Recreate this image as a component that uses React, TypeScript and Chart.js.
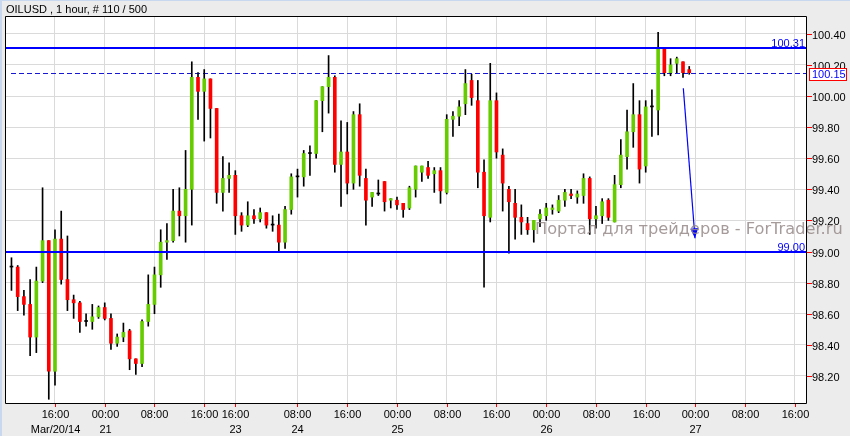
import React, { useEffect, useRef } from 'react';
import { Chart, registerables } from 'chart.js';

Chart.register(...registerables);

// ---- data (OILUSD, 1 hour, 110 bars) ----
const OPEN = [
  98.90, 98.90, 98.71, 98.66, 98.45, 98.81, 99.07, 98.23, 99.08, 98.82,
  98.69, 98.67, 98.55, 98.55, 98.58, 98.64, 98.57, 98.41, 98.45, 98.49,
  98.31, 98.28, 98.55, 98.66, 98.85, 99.06, 99.07, 99.26, 99.23, 99.40,
  100.12, 100.03, 100.11, 99.92, 99.38, 99.47, 99.49, 99.23, 99.17, 99.23,
  99.21, 99.25, 99.17, 99.17, 99.06, 99.27, 99.48, 99.48, 99.63, 99.63,
  99.97, 100.06, 100.12, 99.56, 99.64, 99.44, 99.88, 99.47, 99.35, 99.37,
  99.45, 99.33, 99.33, 99.31, 99.28, 99.40, 99.51, 99.54, 99.50, 99.52,
  99.38, 99.85, 99.87, 99.95, 100.10, 99.97, 99.51, 99.22, 99.97, 99.62,
  99.40, 99.31, 99.22, 99.18, 99.14, 99.21, 99.23, 99.27, 99.26, 99.33,
  99.37, 99.35, 99.36, 99.47, 99.21, 99.23, 99.33, 99.19, 99.43, 99.61,
  99.77, 99.88, 99.55, 99.93, 99.91, 100.30, 100.15, 100.21, 100.22, 100.17,
];
const HIGH = [
  98.96, 98.91, 98.75, 98.82, 98.90, 99.41, 99.07, 99.14, 99.26, 99.10,
  98.72, 98.68, 98.60, 98.66, 98.65, 98.67, 98.60, 98.47, 98.54, 98.50,
  98.31, 98.56, 98.85, 98.90, 99.14, 99.18, 99.40, 99.41, 99.65, 100.22,
  100.15, 100.17, 100.11, 99.92, 99.61, 99.57, 99.52, 99.25, 99.32, 99.27,
  99.28, 99.25, 99.23, 99.24, 99.29, 99.50, 99.53, 99.65, 99.68, 99.97,
  100.06, 100.26, 100.13, 99.84, 99.83, 99.90, 99.95, 99.53, 99.38, 99.46,
  99.45, 99.34, 99.35, 99.31, 99.42, 99.55, 99.55, 99.58, 99.54, 99.54,
  99.88, 99.90, 99.97, 100.17, 100.14, 100.10, 99.59, 100.21, 100.02, 99.66,
  99.42, 99.40, 99.30, 99.22, 99.20, 99.27, 99.31, 99.30, 99.36, 99.40,
  99.40, 99.39, 99.50, 99.48, 99.29, 99.34, 99.34, 99.49, 99.72, 99.91,
  100.08, 99.97, 99.97, 100.04, 100.41, 100.30, 100.24, 100.25, 100.22, 100.19,
];
const LOW = [
  98.75, 98.62, 98.59, 98.33, 98.35, 98.80, 98.05, 98.14, 98.79, 98.62,
  98.57, 98.48, 98.52, 98.50, 98.57, 98.56, 98.37, 98.39, 98.42, 98.24,
  98.21, 98.26, 98.52, 98.60, 98.77, 98.95, 99.06, 99.10, 99.06, 99.17,
  99.85, 99.71, 99.73, 99.31, 99.26, 99.38, 99.11, 99.13, 99.16, 99.18,
  99.19, 99.15, 99.13, 99.00, 99.02, 99.24, 99.35, 99.42, 99.49, 99.60,
  99.77, 99.89, 99.51, 99.29, 99.37, 99.40, 99.42, 99.17, 99.29, 99.36,
  99.26, 99.28, 99.27, 99.22, 99.27, 99.35, 99.45, 99.47, 99.38, 99.31,
  99.37, 99.74, 99.81, 99.88, 99.94, 99.41, 98.77, 99.19, 99.60, 99.26,
  98.99, 99.08, 99.11, 99.11, 99.06, 99.16, 99.20, 99.24, 99.25, 99.29,
  99.34, 99.31, 99.31, 99.11, 99.15, 99.18, 99.20, 99.19, 99.41, 99.53,
  99.67, 99.44, 99.51, 99.74, 99.75, 100.13, 100.13, 100.15, 100.12, 100.14,
];
const CLOSE = [
  98.90, 98.71, 98.66, 98.45, 98.81, 99.07, 98.23, 99.08, 98.82, 98.69,
  98.67, 98.55, 98.55, 98.58, 98.64, 98.57, 98.41, 98.45, 98.48, 98.31,
  98.28, 98.55, 98.66, 98.85, 99.06, 99.07, 99.26, 99.23, 99.40, 100.12,
  100.03, 100.11, 99.92, 99.38, 99.47, 99.49, 99.23, 99.17, 99.23, 99.21,
  99.25, 99.17, 99.17, 99.06, 99.27, 99.48, 99.48, 99.63, 99.63, 99.97,
  100.06, 100.12, 99.56, 99.64, 99.44, 99.88, 99.49, 99.33, 99.38, 99.37,
  99.32, 99.34, 99.30, 99.27, 99.41, 99.55, 99.55, 99.49, 99.52, 99.39,
  99.85, 99.87, 99.93, 100.08, 99.99, 99.51, 99.23, 99.97, 99.64, 99.44,
  99.32, 99.22, 99.19, 99.14, 99.20, 99.24, 99.28, 99.28, 99.33, 99.38,
  99.36, 99.37, 99.47, 99.21, 99.23, 99.32, 99.22, 99.43, 99.62, 99.77,
  99.88, 99.53, 99.93, 99.93, 100.31, 100.15, 100.20, 100.24, 100.15, 100.15,
];

// time axis (bar index -> label)
const TICK_INDEX = [7, 15, 23, 31, 36, 46, 54, 62, 70, 78, 86, 94, 102, 110, 118, 126];
const TICK_TIME = ['16:00', '00:00', '08:00', '16:00', '16:00', '08:00', '16:00', '00:00', '08:00', '16:00', '00:00', '08:00', '16:00', '00:00', '08:00', '16:00'];
const TICK_DATE = ['Mar/20/14', '21', '', '', '23', '24', '', '25', '', '', '26', '', '', '27', '', ''];

// price axis
const PRICE_TICKS = [98.2, 98.4, 98.6, 98.8, 99.0, 99.2, 99.4, 99.6, 99.8, 100.0, 100.2, 100.4];

// objects on chart
const LEVELS = [100.31, 99.0];
const BID = 100.15;
const ARROW_FROM = { x: 108.05, y: 100.05 };
const ARROW_TO = { x: 109.93, y: 99.085 };

const TITLE = 'OILUSD , 1 hour, # 110 / 500';
const WATERMARK = 'Портал для трейдеров - ForTrader.ru';

const GREEN = '#66CC00';
const RED = '#FF0000';
const GRID = '#DADADA';
const BLUE = '#0000FF';
const FONT = '11px "Liberation Sans", Arial, sans-serif';

const decor = {
  id: 'decor',
  beforeDraw(chart: any) {
    const { ctx, chartArea: a, width, height } = chart;
    ctx.save();
    ctx.fillStyle = '#ECECEC';
    ctx.fillRect(0, 0, width, height);
    ctx.fillStyle = '#FFFFFF';
    ctx.fillRect(a.left, a.top, a.right - a.left, a.bottom - a.top);
    ctx.fillStyle = '#C8D8EE';
    ctx.fillRect(0, 0, 2, height);
    ctx.fillRect(0, 0, width, 1);
    ctx.fillStyle = '#000';
    ctx.font = FONT;
    ctx.textAlign = 'left';
    ctx.textBaseline = 'alphabetic';
    ctx.fillText(TITLE, 6, 12.5);
    ctx.restore();
  },
  beforeDatasetsDraw(chart: any) {
    const { ctx, chartArea: a, scales } = chart;
    const y = Math.round(scales.y.getPixelForValue(BID)) + 0.5;
    ctx.save();
    ctx.strokeStyle = 'rgb(24,24,210)';
    ctx.lineWidth = 1;
    ctx.setLineDash([5, 3]);
    ctx.beginPath();
    ctx.moveTo(a.left + 5, y);
    ctx.lineTo(a.right, y);
    ctx.stroke();
    ctx.restore();
  },
  afterDatasetsDraw(chart: any) {
    const { ctx, chartArea: a, scales } = chart;
    const xs = scales.x;
    const ys = scales.y;
    ctx.save();
    ctx.font = FONT;

    // horizontal levels
    LEVELS.forEach((lv) => {
      const y = ys.getPixelForValue(lv);
      ctx.fillStyle = BLUE;
      ctx.fillRect(a.left, Math.round(y) - 1, a.right - a.left, 2);
      ctx.textAlign = 'right';
      ctx.textBaseline = 'alphabetic';
      ctx.fillText(lv.toFixed(2), a.right - 1, Math.round(y) - 1.5);
    });

    // arrow
    const x1 = xs.getPixelForValue(ARROW_FROM.x);
    const y1 = ys.getPixelForValue(ARROW_FROM.y);
    const x2 = xs.getPixelForValue(ARROW_TO.x);
    const y2 = ys.getPixelForValue(ARROW_TO.y);
    ctx.strokeStyle = BLUE;
    ctx.lineWidth = 1.2;
    ctx.beginPath();
    ctx.moveTo(x1, y1);
    ctx.lineTo(x2, y2);
    ctx.stroke();
    const ang = Math.atan2(y2 - y1, x2 - x1);
    const L = 10;
    const W = 4;
    const bx = x2 - L * Math.cos(ang);
    const by = y2 - L * Math.sin(ang);
    ctx.fillStyle = BLUE;
    ctx.beginPath();
    ctx.moveTo(x2, y2);
    ctx.lineTo(bx + W * Math.sin(ang), by - W * Math.cos(ang));
    ctx.lineTo(bx - W * Math.sin(ang), by + W * Math.cos(ang));
    ctx.closePath();
    ctx.fill();

    // watermark
    ctx.font = '16px "DejaVu Sans", sans-serif';
    const w16 = ctx.measureText(WATERMARK).width;
    const fs = (16 * 308) / w16;
    ctx.font = `${fs.toFixed(2)}px "DejaVu Sans", sans-serif`;
    ctx.fillStyle = 'rgba(150,138,138,0.85)';
    ctx.textAlign = 'left';
    ctx.textBaseline = 'alphabetic';
    ctx.fillText(WATERMARK, 535, 234);

    // frame
    ctx.strokeStyle = '#000';
    ctx.lineWidth = 1;
    ctx.beginPath();
    ctx.rect(a.left - 0.5, a.top - 0.5, a.right - a.left + 1, a.bottom - a.top + 1);
    ctx.stroke();

    // price axis labels
    ctx.font = FONT;
    ctx.textAlign = 'left';
    ctx.textBaseline = 'alphabetic';
    PRICE_TICKS.forEach((p) => {
      const y = Math.round(ys.getPixelForValue(p));
      ctx.fillStyle = RED;
      ctx.fillRect(a.right + 1, y, 5, 1);
      ctx.fillStyle = '#000';
      ctx.fillText(p.toFixed(2), a.right + 6, y + 5);
    });

    // bid box
    const by2 = Math.round(ys.getPixelForValue(BID));
    ctx.fillStyle = '#FFFFFF';
    ctx.fillRect(a.right + 3, by2 - 4, 37, 11);
    ctx.strokeStyle = RED;
    ctx.strokeRect(a.right + 3.5, by2 - 4.5, 37, 12);
    ctx.fillStyle = BLUE;
    ctx.fillText(BID.toFixed(2), a.right + 6, by2 + 5);

    // time axis labels
    ctx.textAlign = 'center';
    TICK_INDEX.forEach((t, i) => {
      const x = Math.round(xs.getPixelForValue(t));
      ctx.fillStyle = RED;
      ctx.fillRect(x, a.bottom + 1, 1, 3);
      ctx.fillStyle = '#000';
      ctx.fillText(TICK_TIME[i], x + 0.5, a.bottom + 15);
      if (TICK_DATE[i]) ctx.fillText(TICK_DATE[i], x + 0.5, a.bottom + 30);
    });
    ctx.restore();
  },
};

export default function App() {
  const ref = useRef<HTMLCanvasElement>(null);
  useEffect(() => {
    const canvas = ref.current;
    if (!canvas) return;
    const idx = OPEN.map((_, i) => i);
    const wickData = idx.map((i) => ({ x: i, y: [LOW[i], HIGH[i]] }));
    const bodyData = idx.map((i) => ({ x: i, y: [Math.min(OPEN[i], CLOSE[i]), Math.max(OPEN[i], CLOSE[i])] }));
    const bodyColors = idx.map((i) => (CLOSE[i] > OPEN[i] ? GREEN : CLOSE[i] < OPEN[i] ? RED : '#000000'));
    const chart = new Chart(canvas, {
      type: 'bar',
      data: {
        datasets: [
          {
            label: 'body',
            data: bodyData as any,
            backgroundColor: bodyColors,
            barThickness: 3,
            minBarLength: 1,
            grouped: false,
            order: 0,
          } as any,
          {
            label: 'wick',
            data: wickData as any,
            backgroundColor: '#000000',
            barThickness: 1,
            grouped: false,
            order: 1,
          } as any,
        ],
      },
      options: {
        responsive: false,
        animation: false,
        events: [],
        layout: { padding: { left: 6, top: 17, right: 44, bottom: 33 } },
        plugins: {
          legend: { display: false },
          tooltip: { enabled: false },
          title: { display: false },
        },
        scales: {
          x: {
            type: 'linear',
            min: -0.88,
            max: 127.78,
            offset: false,
            ticks: { display: false },
            grid: { color: GRID, drawTicks: false, offset: false, lineWidth: 1 },
            border: { display: false },
            afterBuildTicks: (s: any) => {
              s.ticks = TICK_INDEX.map((v) => ({ value: v }));
            },
          },
          y: {
            type: 'linear',
            min: 98.026,
            max: 100.508,
            ticks: { display: false },
            grid: { color: GRID, drawTicks: false, lineWidth: 1 },
            border: { display: false },
            afterBuildTicks: (s: any) => {
              s.ticks = PRICE_TICKS.map((v) => ({ value: v }));
            },
          },
        },
      } as any,
      plugins: [decor],
    });
    return () => chart.destroy();
  }, []);
  return (
    <div style={{ position: 'fixed', left: 0, top: 0, width: 850, height: 436 }}>
      <canvas ref={ref} width={850} height={436} style={{ display: 'block' }} />
    </div>
  );
}
